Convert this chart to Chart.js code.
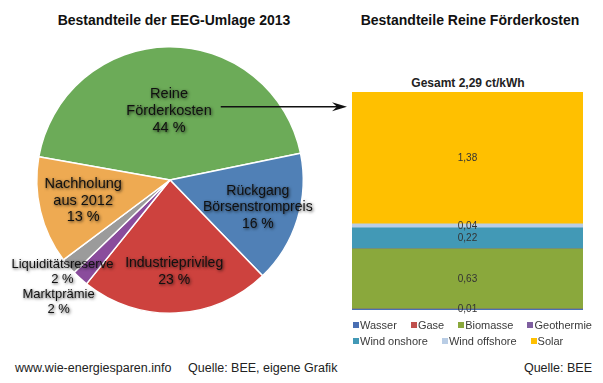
<!DOCTYPE html>
<html><head><meta charset="utf-8">
<script src="https://cdn.jsdelivr.net/npm/chart.js@4.4.0/dist/chart.umd.min.js"></script>
<style>
html,body{margin:0;padding:0;background:#fff;width:603px;height:383px;overflow:hidden;font-family:"Liberation Sans",Arial,Helvetica,sans-serif;}
#wrap{position:relative;width:603px;height:383px;}
.t{position:absolute;white-space:nowrap;color:#111;}
.title{font-weight:bold;font-size:14px;line-height:16px;top:12px;transform:translateX(-50%);}
#pie{position:absolute;left:0;top:0;}
#bar{position:absolute;left:340px;top:88px;}
#legend{position:absolute;left:353px;top:317px;font-size:11px;line-height:16px;color:#3a3a3a;}
#legend .row{white-space:nowrap;}
#legend .it{display:inline-block;margin-right:14px;}
#legend .sq{display:inline-block;width:6px;height:6px;margin-right:1px;vertical-align:1px;}
.foot{font-size:12.5px;line-height:14px;top:361px;color:#222;}
</style></head>
<body><div id="wrap">
<div class="t title" style="left:174px">Bestandteile der EEG-Umlage 2013</div>
<div class="t title" style="left:470px">Bestandteile Reine Förderkosten</div>
<div class="t" id="total" style="left:468px;top:76px;font-weight:bold;font-size:12px;line-height:14px;transform:translateX(-50%);color:#222"></div>
<canvas id="pie" width="352" height="360"></canvas>
<canvas id="bar" width="263" height="232"></canvas>
<div id="legend"></div>
<div class="t foot" style="left:15px">www.wie-energiesparen.info</div>
<div class="t foot" style="left:188px">Quelle: BEE, eigene Grafik</div>
<div class="t foot" style="right:11px">Quelle: BEE</div>
</div>
<script>
// ---- data ----
const pieCategories = ["Reine Förderkosten","Rückgang Börsenstrompreis","Industrieprivileg","Marktprämie","Liquiditätsreserve","Nachholung aus 2012"];
const pieLabelLines = [["Reine","Förderkosten"],["Rückgang","Börsenstrompreis"],["Industrieprivileg"],["Marktprämie"],["Liquiditätsreserve"],["Nachholung","aus 2012"]];
const pieValues = [44,16,23,2,2,13];
const barCategories = ["Wasser","Gase","Biomasse","Geothermie","Wind onshore","Wind offshore","Solar"];
const barValues = [0.01,0,0.63,0,0.22,0.04,1.38];
const totalLabel = "Gesamt 2,29 ct/kWh";

// ---- styles ----
const pieColors = ["#6cab58","#5080b6","#cd423e","#8a4c9c","#9b9b9b","#eeaa52"];
const pieLabelRadius = [0.52,0.69,0.69,1.24,1.06,0.67];
const pieLabelSize = [14.5,14,14,13,13,14.5];
const pieLineHeight = [17,16.5,16.5,15,15,16.5];
const barColors = ["#4a6fb3","#c0504d","#8aa83c","#7f5fa0","#4299b6","#b9cde5","#ffc000"];

document.getElementById('total').textContent = totalLabel;

// legend
const legend = document.getElementById('legend');
[[0,4],[4,7]].forEach(([a,b])=>{
  const row=document.createElement('div');row.className='row';
  for(let i=a;i<b;i++){
    const it=document.createElement('span');it.className='it';
    const sq=document.createElement('span');sq.className='sq';sq.style.background=barColors[i];
    it.appendChild(sq);it.appendChild(document.createTextNode(barCategories[i]));
    row.appendChild(it);
  }
  legend.appendChild(row);
});

const FONT = '"Liberation Sans", Arial, Helvetica, sans-serif';

const pieLabelPlugin = {
  id:'pieLabels',
  afterDatasetsDraw(chart){
    const ctx=chart.ctx;
    const meta=chart.getDatasetMeta(0);
    ctx.save();
    ctx.textAlign='center';ctx.textBaseline='middle';
    let arrowInfo=null;
    meta.data.forEach((arc,i)=>{
      const p=arc.getProps(['x','y','startAngle','endAngle','outerRadius'],true);
      const mid=(p.startAngle+p.endAngle)/2;
      const r=p.outerRadius*pieLabelRadius[i];
      const cx=p.x+Math.cos(mid)*r, cy=p.y+Math.sin(mid)*r;
      const lh=pieLineHeight[i];
      ctx.font=pieLabelSize[i]+'px '+FONT;
      const lines=pieLabelLines[i].concat([pieValues[i]+' %']);
      const y0=cy-(lines.length-1)*lh/2;
      lines.forEach((ln,k)=>{
        ctx.shadowColor='rgba(0,0,0,0.7)';ctx.shadowBlur=3;ctx.shadowOffsetX=1;ctx.shadowOffsetY=1;
        ctx.fillStyle='#111';
        ctx.fillText(ln,cx,y0+k*lh);
      });
      if(i===0){
        let w=0;lines.forEach(l=>{w=Math.max(w,ctx.measureText(l).width);});
        arrowInfo={x:cx+w/2+9,y:cy-4};
      }
    });
    ctx.restore();
    if(arrowInfo){
      const x1=chart.width-5,y=arrowInfo.y;
      ctx.save();
      ctx.strokeStyle='#111';ctx.fillStyle='#111';ctx.lineWidth=1.6;
      ctx.beginPath();ctx.moveTo(arrowInfo.x,y);ctx.lineTo(x1-10,y);ctx.stroke();
      ctx.beginPath();ctx.moveTo(x1,y);ctx.lineTo(x1-15,y-4.5);ctx.lineTo(x1-10,y);ctx.lineTo(x1-15,y+4.5);ctx.closePath();ctx.fill();
      ctx.restore();
    }
  }
};

new Chart(document.getElementById('pie'),{
  type:'pie',
  data:{labels:pieCategories,datasets:[{data:pieValues,backgroundColor:pieColors,borderColor:'#ffffff',borderWidth:1.5}]},
  options:{
    responsive:false,devicePixelRatio:1,animation:false,rotation:-80,
    layout:{padding:{left:36,right:48,top:46,bottom:46}},
    plugins:{legend:{display:false},tooltip:{enabled:false}},
    events:[]
  },
  plugins:[pieLabelPlugin]
});

const barLabelPlugin = {
  id:'barLabels',
  afterDatasetsDraw(chart){
    const ctx=chart.ctx;
    ctx.save();
    ctx.font='10px '+FONT;ctx.fillStyle='#333';ctx.textAlign='center';ctx.textBaseline='middle';
    chart.data.datasets.forEach((ds,i)=>{
      const v=ds.data[0];
      if(!v) return;
      const el=chart.getDatasetMeta(i).data[0];
      const p=el.getProps(['x','y','base'],true);
      ctx.fillText(v.toFixed(2).replace('.',','),p.x,(p.y+p.base)/2);
    });
    ctx.restore();
  }
};

const barTotal = barValues.reduce((a,b)=>a+b,0);
new Chart(document.getElementById('bar'),{
  type:'bar',
  data:{labels:['Gesamt'],datasets:barCategories.map((c,i)=>({label:c,data:[barValues[i]],backgroundColor:barColors[i],borderWidth:0,barPercentage:1,categoryPercentage:1}))},
  options:{
    responsive:false,devicePixelRatio:1,animation:false,
    layout:{padding:{left:12,right:20,top:4,bottom:10}},
    scales:{
      x:{stacked:true,display:false},
      y:{stacked:true,display:false,min:0,max:barTotal}
    },
    plugins:{legend:{display:false},tooltip:{enabled:false},title:{display:false}},
    events:[]
  },
  plugins:[barLabelPlugin]
});
</script>
</body></html>
